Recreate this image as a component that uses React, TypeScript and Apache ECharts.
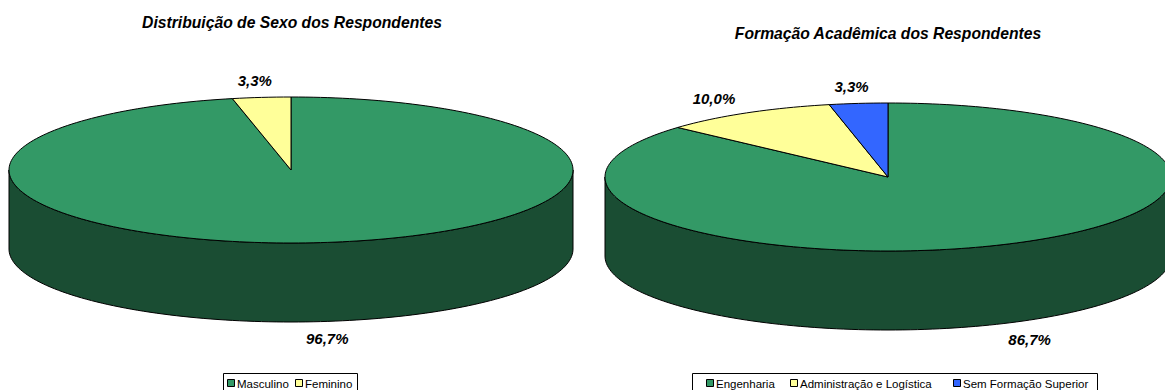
import { useEffect, useRef } from "react";
import * as echarts from "echarts";

// Respondent counts per category
const sexTitle = "Distribuição de Sexo dos Respondentes";
const sexCategories = ["Masculino", "Feminino"];
const sexCounts = [29, 1];
const sexColors = ["#339966", "#FFFF99"];

const eduTitle = "Formação Acadêmica dos Respondentes";
const eduCategories = ["Engenharia", "Administração e Logística", "Sem Formação Superior"];
const eduCounts = [26, 3, 1];
const eduColors = ["#339966", "#FFFF99", "#3366FF"];

type Geo = { cx: number; cy: number; rx: number; ry: number; depth: number };

const leftGeo: Geo = { cx: 291, cy: 170, rx: 282, ry: 73, depth: 79 };
const rightGeo: Geo = { cx: 888, cy: 177, rx: 283, ry: 74, depth: 79 };

const FONT = "Arial, 'Liberation Sans', sans-serif";

function darken(hex: string, f: number) {
  const n = parseInt(hex.slice(1), 16);
  const r = Math.round(((n >> 16) & 255) * f);
  const g = Math.round(((n >> 8) & 255) * f);
  const b = Math.round((n & 255) * f);
  return `rgb(${r},${g},${b})`;
}

function rim(g: Geo, deg: number, dy: number) {
  const a = (deg * Math.PI) / 180;
  return [g.cx + g.rx * Math.sin(a), g.cy - g.ry * Math.cos(a) + dy];
}

function arc(g: Geo, a0: number, a1: number, dy: number) {
  const n = Math.max(2, Math.ceil((a1 - a0) / 1.5));
  const pts: number[][] = [];
  for (let i = 0; i <= n; i++) pts.push(rim(g, a0 + ((a1 - a0) * i) / n, dy));
  return pts;
}

function fmtPct(v: number) {
  return v.toFixed(1).replace(".", ",") + "%";
}

// One custom series per pie: each item holds its start/end angle (degrees clockwise from 12 o'clock)
function pieSeries(id: string, cats: string[], counts: number[], colors: string[], g: Geo) {
  const total = counts.reduce((s, v) => s + v, 0);
  let acc = 0;
  const data = counts.map((v, i) => {
    const a0 = (acc / total) * 360;
    acc += v;
    const a1 = (acc / total) * 360;
    return { name: cats[i], value: [a0, a1, (v / total) * 100] };
  });
  return {
    type: "custom",
    id,
    coordinateSystem: "none",
    silent: true,
    data,
    renderItem: (params: any, api: any) => {
      const i = params.dataIndex;
      const a0 = api.value(0);
      const a1 = api.value(1);
      const pct = api.value(2);
      const color = colors[i];
      const children: any[] = [];
      const lo = Math.max(a0, 90);
      const hi = Math.min(a1, 270);
      if (hi > lo) {
        const top = arc(g, lo, hi, 0);
        const bottom = arc(g, lo, hi, g.depth).reverse();
        children.push({
          type: "polygon",
          shape: { points: top.concat(bottom) },
          style: { fill: darken(color, 0.5), stroke: "#000", lineWidth: 1 },
        });
      }
      children.push({
        type: "polygon",
        shape: { points: [[g.cx, g.cy]].concat(arc(g, a0, a1, 0)) },
        style: { fill: color, stroke: "#000", lineWidth: 1, lineJoin: "round" },
      });
      const mid = ((a0 + a1) / 2) * (Math.PI / 180);
      const k = 1.23;
      const front = Math.cos(mid) < 0;
      children.push({
        type: "text",
        x: g.cx + g.rx * k * Math.sin(mid),
        y: g.cy - g.ry * k * Math.cos(mid) + (front ? g.depth : 0),
        style: {
          text: fmtPct(pct),
          fill: "#000",
          fontFamily: FONT,
          fontSize: 15,
          fontWeight: "bold",
          fontStyle: "italic",
          align: "center",
          verticalAlign: "middle",
        },
      });
      return { type: "group", children };
    },
  };
}

type LegendItem = { name: string; color: string; x: number };

function legend(box: { x: number; y: number; w: number }, items: LegendItem[]) {
  const els: any[] = [
    {
      type: "rect",
      shape: { x: box.x + 0.5, y: box.y + 0.5, width: box.w, height: 24 },
      style: { fill: "#fff", stroke: "#000", lineWidth: 1 },
      z: 10,
    },
  ];
  items.forEach((it) => {
    els.push({
      type: "rect",
      shape: { x: it.x + 0.5, y: box.y + 6.5, width: 7, height: 7 },
      style: { fill: it.color, stroke: "#000", lineWidth: 1 },
      z: 11,
    });
    els.push({
      type: "text",
      x: it.x + 10,
      y: box.y + 10.5,
      style: {
        text: it.name,
        fill: "#000",
        fontFamily: FONT,
        fontSize: 11.5,
        align: "left",
        verticalAlign: "middle",
      },
      z: 11,
    });
  });
  return els;
}

function titleText(text: string, x: number, y: number) {
  return {
    type: "text",
    x,
    y,
    style: {
      text,
      fill: "#000",
      fontFamily: FONT,
      fontSize: 15.7,
      fontWeight: "bold",
      fontStyle: "italic",
      align: "center",
      verticalAlign: "middle",
    },
  };
}

export default function App() {
  const ref = useRef<HTMLDivElement>(null);
  useEffect(() => {
    if (!ref.current) return;
    const chart = echarts.init(ref.current, null, { renderer: "svg" });
    const sexLegendX = [227, 295];
    const eduLegendX = [706, 790, 953];
    chart.setOption({
      animation: false,
      backgroundColor: "#fff",
      series: [
        pieSeries("sexo", sexCategories, sexCounts, sexColors, leftGeo),
        pieSeries("formacao", eduCategories, eduCounts, eduColors, rightGeo),
      ],
      graphic: [
        titleText(sexTitle, 292, 22),
        titleText(eduTitle, 888, 33),
        ...legend(
          { x: 223, y: 373, w: 134 },
          sexCategories.map((n, i) => ({ name: n, color: sexColors[i], x: sexLegendX[i] }))
        ),
        ...legend(
          { x: 692, y: 373, w: 405 },
          eduCategories.map((n, i) => ({ name: n, color: eduColors[i], x: eduLegendX[i] }))
        ),
      ],
    });
    return () => chart.dispose();
  }, []);
  return (
    <div
      ref={ref}
      style={{ position: "absolute", left: 0, top: 0, width: 1165, height: 390 }}
    />
  );
}
